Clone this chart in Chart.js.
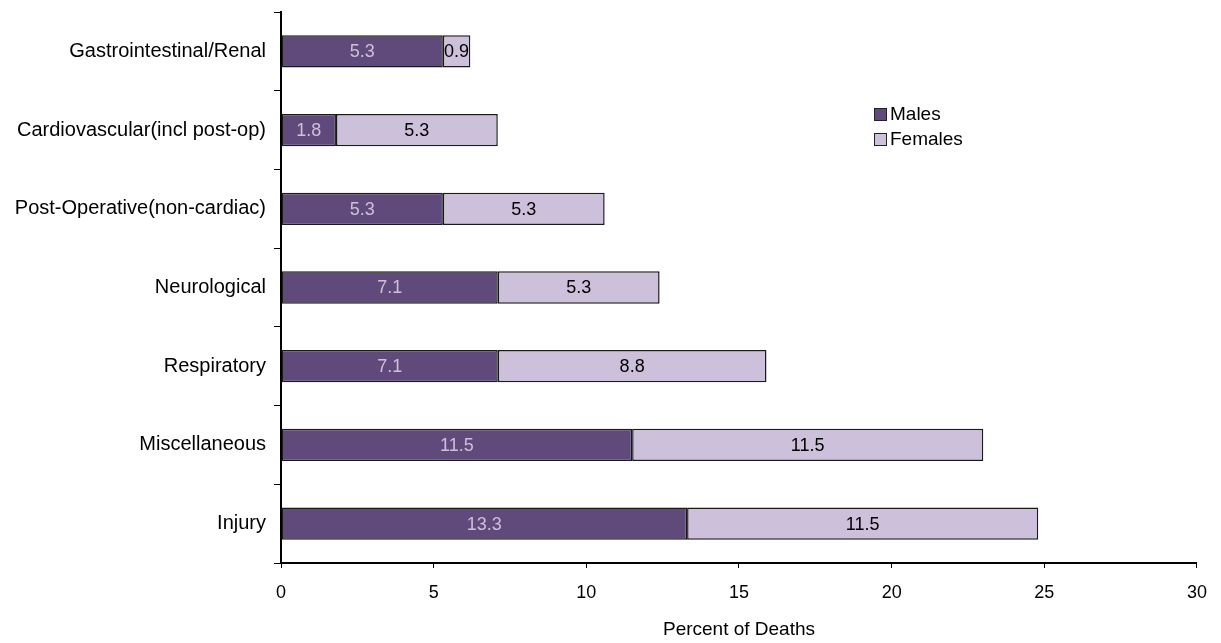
<!DOCTYPE html>
<html>
<head>
<meta charset="utf-8">
<script src="https://cdn.jsdelivr.net/npm/chart.js@4.4.1/dist/chart.umd.min.js"></script>
<style>
html, body { margin: 0; padding: 0; background: #fff; }
#wrap { position: relative; width: 1221px; height: 643px; }
#legend { position: absolute; left: 874px; top: 101px; font: 19px 'Liberation Sans', Arial, sans-serif; color: #000; }
#legend div { height: 25px; line-height: 25px; white-space: nowrap; }
#legend span { display: inline-block; width: 11px; height: 11px; border: 1.5px solid #222; margin-right: 3px; vertical-align: -1px; }
</style>
</head>
<body>
<div id="wrap">
  <canvas id="myChart" width="1221" height="643"></canvas>
  <div id="legend"></div>
</div>
<script>
// data
const categories = ['Gastrointestinal/Renal', 'Cardiovascular(incl post-op)', 'Post-Operative(non-cardiac)',
  'Neurological', 'Respiratory', 'Miscellaneous', 'Injury'];
const males = [5.3, 1.8, 5.3, 7.1, 7.1, 11.5, 13.3];
const females = [0.9, 5.3, 5.3, 5.3, 8.8, 11.5, 11.5];
const xTicks = [0, 5, 10, 15, 20, 25, 30];

const FONT = "'Liberation Sans', Arial, sans-serif";
const maleColor = '#604a7b';
const femaleColor = '#ccc0da';

// numbers in the bars
const barLabels = {
  id: 'barLabels',
  afterDatasetsDraw(chart) {
    const ctx = chart.ctx;
    ctx.save();
    ctx.font = '18px ' + FONT;
    ctx.textAlign = 'center';
    ctx.textBaseline = 'middle';
    chart.data.datasets.forEach((ds, i) => {
      chart.getDatasetMeta(i).data.forEach((bar, j) => {
        const p = bar.getCenterPoint();
        ctx.fillStyle = i === 0 ? femaleColor : '#000';
        ctx.fillText(ds.data[j].toFixed(1), p.x, p.y + 1);
      });
    });
    ctx.restore();
  }
};

let ctx = document.getElementById('myChart').getContext('2d');
let chart = new Chart(ctx, {
  type: 'bar',
  data: {
    labels: categories,
    datasets: [
      { label: 'Males', data: males, backgroundColor: maleColor, borderColor: '#1a1a1a', borderWidth: 1.5, borderSkipped: false },
      { label: 'Females', data: females, backgroundColor: femaleColor, borderColor: '#1a1a1a', borderWidth: 1.5, borderSkipped: false }
    ]
  },
  options: {
    indexAxis: 'y',
    responsive: false,
    animation: false,
    layout: { padding: { top: 12, right: 19, left: 0, bottom: 0 } },
    barPercentage: 0.41,
    categoryPercentage: 1,
    plugins: { legend: { display: false }, tooltip: { enabled: false } },
    scales: {
      x: {
        stacked: true, min: 0, max: 30,
        afterBuildTicks: s => { s.ticks = xTicks.map(v => ({ value: v })); },
        afterFit: s => { s.height = 80; },
        ticks: { color: '#000', font: { family: FONT, size: 18 }, padding: 14 },
        grid: { drawOnChartArea: false, drawTicks: true, tickLength: 5, tickColor: '#000', tickWidth: 1 },
        border: { color: '#000', width: 2 },
        title: { display: true, text: 'Percent of Deaths', color: '#000', font: { family: FONT, size: 19 }, padding: { top: 0, bottom: 2 } }
      },
      y: {
        stacked: true,
        afterFit: s => { s.width = 281; s.paddingTop = 0; s.paddingBottom = 0; },
        ticks: { color: '#000', font: { family: FONT, size: 20 }, padding: 8 },
        grid: { offset: true, drawOnChartArea: false, drawTicks: true, tickLength: 7, tickColor: '#000', tickWidth: 1 },
        border: { color: '#000', width: 2 }
      }
    }
  },
  plugins: [barLabels]
});

// legend
document.getElementById('legend').innerHTML = chart.data.datasets.map(ds =>
  `<div><span style="background:${ds.backgroundColor}"></span>${ds.label}</div>`).join('');
</script>
</body>
</html>
